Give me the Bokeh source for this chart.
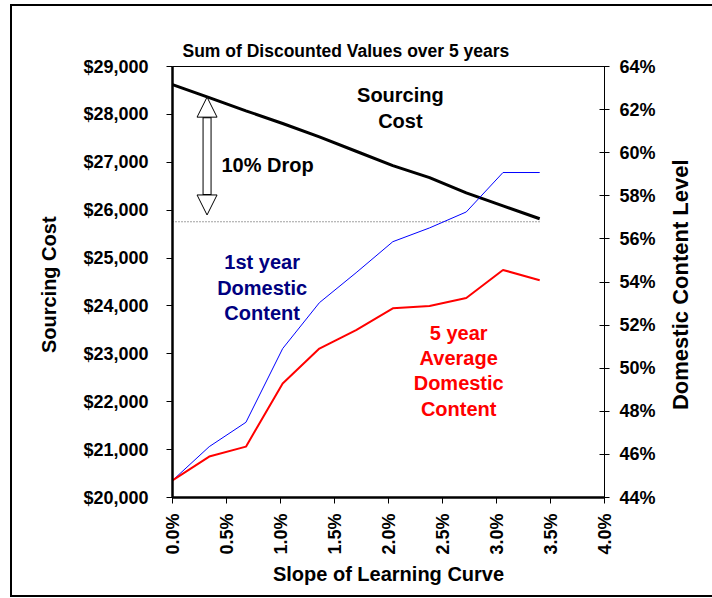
import math
from bokeh.plotting import figure
from bokeh.layouts import row
from bokeh.models import (Range1d, LinearAxis, FixedTicker, NumeralTickFormatter,
                          Label, Arrow, NormalHead, Div)
from bokeh.embed import file_html
from bokeh.resources import INLINE

# ---- data ----
slope = [0.0, 0.0034, 0.0068, 0.0102, 0.0136, 0.0170, 0.0204, 0.0238, 0.0272, 0.0306, 0.0340]
sourcing_cost = [28620, 28350, 28075, 27810, 27530, 27230, 26930, 26680, 26360, 26090, 25820]
first_year_dc = [0.4479, 0.4636, 0.4749, 0.5091, 0.5304, 0.5443, 0.5587, 0.5651, 0.5725, 0.5908, 0.5908]
five_year_dc = [0.4479, 0.4590, 0.4636, 0.4929, 0.5091, 0.5177, 0.5278, 0.5289, 0.5326, 0.5456, 0.5408]

cost_ticks = [20000, 21000, 22000, 23000, 24000, 25000, 26000, 27000, 28000, 29000]
pct_ticks = [0.44, 0.46, 0.48, 0.50, 0.52, 0.54, 0.56, 0.58, 0.60, 0.62, 0.64]
slope_ticks = [0.0, 0.005, 0.01, 0.015, 0.02, 0.025, 0.03, 0.035, 0.04]

FONT = "Liberation Sans"

p = figure(width=652, height=589, output_backend="svg", toolbar_location=None,
           x_range=Range1d(0.0, 0.04), y_range=Range1d(20000, 29000),
           min_border_left=160, min_border_right=60, min_border_top=60,
           min_border_bottom=98)
p.extra_y_ranges = {"pct": Range1d(0.44, 0.64)}
p.xgrid.visible = False
p.ygrid.visible = False
p.outline_line_color = "black"
p.outline_line_width = 1
p.background_fill_color = "white"
p.border_fill_color = "white"

p.title.text = "Sum of Discounted Values over 5 years"
p.title.text_font = FONT
p.title.text_font_size = "17.5px"
p.title.text_font_style = "bold"
p.title.text_color = "black"
p.title.align = "left"
p.title.offset = 10
p.title.standoff = 12

# x axis
xa = p.xaxis[0]
xa.ticker = FixedTicker(ticks=slope_ticks)
xa.formatter = NumeralTickFormatter(format="0.0%")
xa.major_label_orientation = math.pi / 2
xa.axis_label = "Slope of Learning Curve"
xa.axis_line_width = 2.5
xa.major_tick_out = 6
xa.major_tick_in = 0
xa.minor_tick_line_color = None
xa.major_label_standoff = 10
xa.axis_label_standoff = 5

# left axis
ya = p.yaxis[0]
ya.ticker = FixedTicker(ticks=cost_ticks)
ya.formatter = NumeralTickFormatter(format="$0,0")
ya.axis_label = "Sourcing  Cost"
ya.axis_line_width = 2.5
ya.major_tick_out = 6
ya.major_tick_in = 0
ya.minor_tick_line_color = None
ya.major_label_standoff = 18
ya.axis_label_standoff = 20

# right axis
ra = LinearAxis(y_range_name="pct", ticker=FixedTicker(ticks=pct_ticks),
                formatter=NumeralTickFormatter(format="0%"))
ra.axis_line_width = 1
ra.major_tick_out = 5
ra.major_tick_in = 5
ra.minor_tick_line_color = None
ra.major_label_standoff = 10
p.add_layout(ra, "right")

for ax in (xa, ya, ra):
    ax.major_label_text_font = FONT
    ax.major_label_text_font_size = "18px"
    ax.major_label_text_font_style = "bold"
    ax.major_label_text_color = "black"
    ax.axis_label_text_font = FONT
    ax.axis_label_text_font_size = "20px"
    ax.axis_label_text_font_style = "bold"
    ax.axis_label_text_color = "black"
    ax.axis_line_color = "black"
    ax.major_tick_line_color = "black"

# reference dotted line at 90% of initial cost
p.line([slope[0], slope[-1]], [sourcing_cost[0] * 0.9] * 2,
       line_color="#444444", line_width=1, line_dash="1 2")

# series
p.line(slope, sourcing_cost, line_color="black", line_width=3)
p.line(slope, first_year_dc, line_color="#0000FF", line_width=1, y_range_name="pct")
p.line(slope, five_year_dc, line_color="#FF0000", line_width=2, y_range_name="pct")

# double arrow (10% drop)
arrow_x = 0.0032
arrow_top = 28360
arrow_bot = 25900
p.add_layout(Arrow(x_start=arrow_x, y_start=arrow_bot, x_end=arrow_x, y_end=arrow_top,
                   line_color="black", line_width=9,
                   start=NormalHead(size=20, fill_color="white", line_color="black", line_width=1),
                   end=NormalHead(size=20, fill_color="white", line_color="black", line_width=1)))
p.add_layout(Arrow(x_start=arrow_x, y_start=arrow_bot + 440, x_end=arrow_x, y_end=arrow_top - 440,
                   line_color="white", line_width=7, start=None, end=None))

def add_label(x, y, text, color):
    p.add_layout(Label(x=x, y=y, text=text, text_font=FONT, text_font_size="20px",
                       text_font_style="bold", text_color=color, text_align="center",
                       text_baseline="middle", text_line_height=1.15))

add_label(0.0211, 28135, "Sourcing\nCost", "black")
add_label(0.0088, 26937, "10% Drop", "black")
add_label(0.0083, 24381, "1st year\nDomestic\nContent", "#000080")
add_label(0.0265, 22646, "5 year\nAverage\nDomestic\nContent", "#FF0000")

# right axis title (rotated, reading upward)
right_title = "Domestic Content Level"
d = Div(width=48, height=550,
        text=('<div style="width:22px;height:548px;display:flex;align-items:center;'
              'justify-content:center;">'
              '<span style="display:inline-block;transform:rotate(-90deg);white-space:nowrap;'
              'font-family:\'Liberation Sans\';font-weight:bold;font-size:22px;color:black;">'
              + right_title + '</span></div>'),
        styles={"overflow": "visible"})

layout = row(p, d, styles={"margin-left": "10px", "margin-top": "4px",
                           "border-left": "2px solid black", "border-top": "2px solid black",
                           "border-bottom": "2px solid black", "background-color": "white"})

open("out.html", "w").write(file_html(layout, INLINE))
